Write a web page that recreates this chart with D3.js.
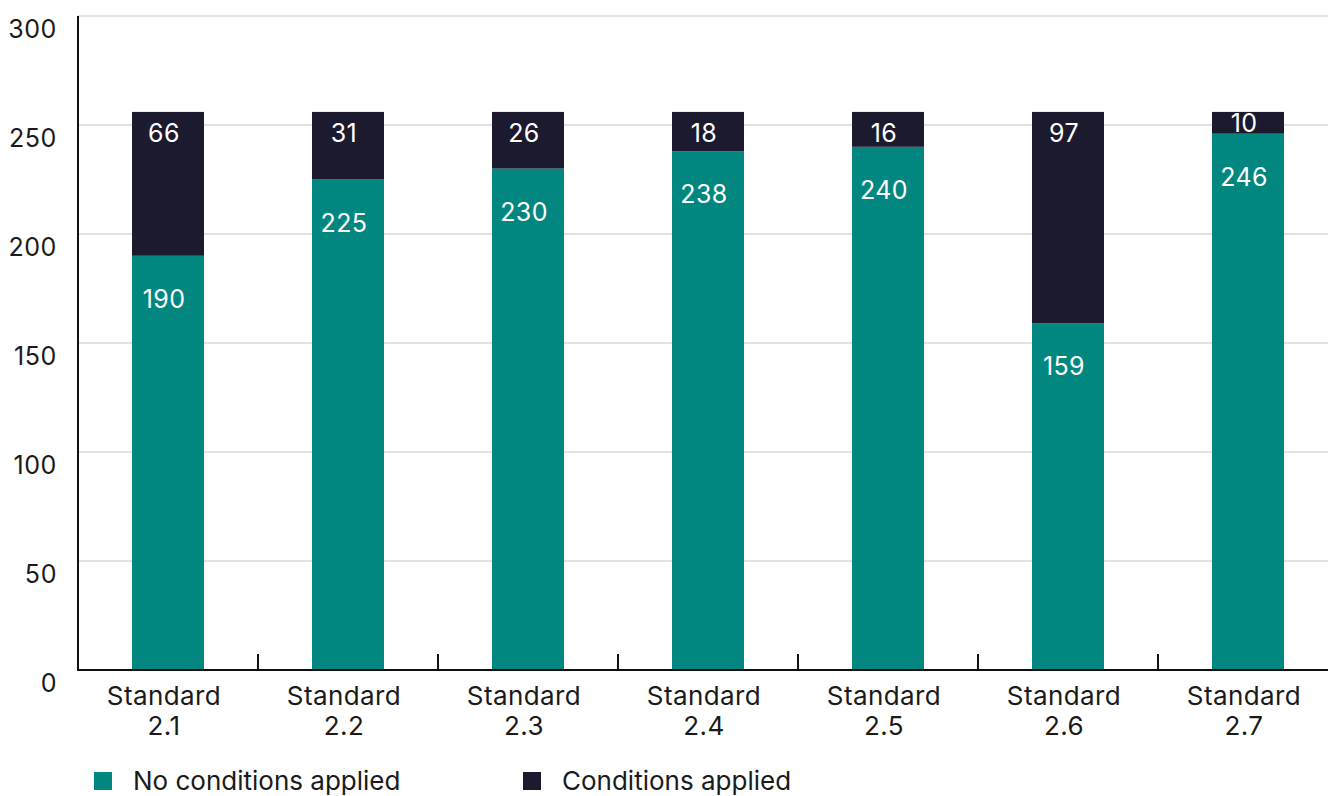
<!DOCTYPE html>
<html><head><meta charset="utf-8">
<script src="https://cdn.jsdelivr.net/npm/d3@7"></script>
<style>body{margin:0;background:#fff}svg{display:block;font-family:Inter,"Noto Sans",sans-serif}</style>
</head><body><svg id="c" width="1328" height="796"></svg>
<script>
const categories = ["Standard 2.1","Standard 2.2","Standard 2.3","Standard 2.4","Standard 2.5","Standard 2.6","Standard 2.7"];
const noConditions = [190,225,230,238,240,159,246];
const conditions = [66,31,26,18,16,97,10];
const seriesNames = ["No conditions applied","Conditions applied"];
const seriesColors = ["#01877f","#1c1a2e"];
const yTicks = [0,50,100,150,200,250,300];

const svg = d3.select("#c");
const x = d3.scaleBand().domain(categories).range([78,1338]).paddingInner(0.6).paddingOuter(0.3);
const y = d3.scaleLinear().domain([0,300]).range([670,16]);
const cx = c => x(c) + x.bandwidth()/2 - 4;

// gridlines
svg.append("g").selectAll("line").data(yTicks.filter(d=>d>0)).join("line")
  .attr("x1",78).attr("x2",1328).attr("y1",d=>y(d)).attr("y2",d=>y(d))
  .attr("stroke","#e2e2e2").attr("stroke-width",2);

// y labels
svg.append("g").selectAll("text").data(yTicks).join("text")
  .attr("x",57).attr("y",d=>y(d)+22).attr("text-anchor","end")
  .attr("font-size",25).attr("letter-spacing",0.6).attr("fill","#1a1a1a").text(d=>d);

const data = categories.map((c,i)=>({c,a:noConditions[i],b:conditions[i]}));
const stack = d3.stack().keys(["a","b"])(data);
const labelOffset = [43,21];

stack.forEach((s,si)=>{
  const g = svg.append("g");
  g.selectAll("rect").data(s).join("rect")
    .attr("x",d=>x(d.data.c)).attr("width",x.bandwidth())
    .attr("y",d=>y(d[1])).attr("height",d=>y(d[0])-y(d[1]))
    .attr("fill",seriesColors[si]);
  g.selectAll("text").data(s).join("text")
    .attr("x",d=>cx(d.data.c))
    .attr("y",d=>Math.min(y(d[1])+labelOffset[si], y(d[0])-11))
    .attr("dy","0.36em").attr("text-anchor","middle")
    .attr("font-size",25).attr("letter-spacing",0.4).attr("fill","#fff")
    .text(d=>d[1]-d[0]);
});

// axes lines
svg.append("line").attr("x1",78).attr("x2",78).attr("y1",16).attr("y2",671).attr("stroke","#111").attr("stroke-width",2);
svg.append("line").attr("x1",77).attr("x2",1328).attr("y1",670).attr("y2",670).attr("stroke","#111").attr("stroke-width",2);
// x ticks at band boundaries
const bounds = categories.map(c=>x(c)-x.step()*0.3);
svg.append("g").selectAll("line").data(bounds).join("line")
  .attr("x1",d=>d).attr("x2",d=>d).attr("y1",654).attr("y2",670)
  .attr("stroke","#111").attr("stroke-width",2);

// x labels
const xl = svg.append("g").selectAll("text").data(categories).join("text")
  .attr("x",d=>cx(d)).attr("y",705).attr("text-anchor","middle")
  .attr("font-size",26).attr("letter-spacing",0.4).attr("fill","#1a1a1a");
xl.append("tspan").attr("x",d=>cx(d)).text(d=>d.split(" ")[0]);
xl.append("tspan").attr("x",d=>cx(d)).attr("dy",30).text(d=>d.split(" ")[1]);

// legend
const legX = [94,523];
const lg = svg.append("g").selectAll("g").data(seriesNames).join("g")
  .attr("transform",(d,i)=>`translate(${legX[i]},772)`);
lg.append("rect").attr("width",18).attr("height",18).attr("fill",(d,i)=>seriesColors[i]);
lg.append("text").attr("x",39).attr("y",18).attr("font-size",26).attr("fill","#1a1a1a").text(d=>d);
</script></body></html>
